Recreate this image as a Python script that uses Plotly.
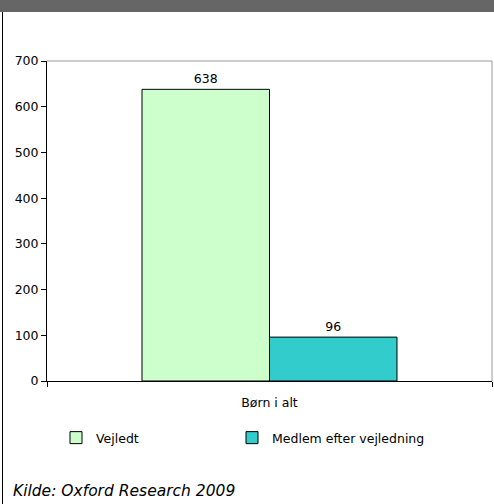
import plotly.graph_objects as go

categories = ["Børn i alt"]
series_names = ["Vejledt", "Medlem efter vejledning"]
vejledt = [638]
medlem = [96]
colors = ["#CCFFCC", "#33CCCC"]
y_ticks = [0, 100, 200, 300, 400, 500, 600, 700]
source = "Kilde: Oxford Research 2009"

W, H = 494, 504
ml, mr, mt, mb = 47, 2, 61, 123
PW, PH = W - ml - mr, H - mt - mb

font = "DejaVu Sans"
fs = 12.5
fig = go.Figure()
for i, (name, vals, col) in enumerate(zip(series_names, [vejledt, medlem], colors)):
    fig.add_trace(go.Bar(
        x=categories, y=vals, name=name,
        marker=dict(color=col, line=dict(color="#000000", width=1)),
        text=[str(v) for v in vals], textposition="outside",
        textfont=dict(family=font, size=fs, color="#000"),
        cliponaxis=False,
        legend="legend" if i == 0 else "legend2",
    ))

leg_y = -(423 - (mt + PH)) / PH
fig.update_layout(
    width=W, height=H,
    margin=dict(l=ml, r=mr, t=mt, b=mb),
    paper_bgcolor="white", plot_bgcolor="white",
    barmode="group", bargap=0.427, bargroupgap=0,
    font=dict(family=font, size=fs, color="#000"),
    showlegend=True,
    legend=dict(orientation="h", x=(56 - ml) / PW, xanchor="left",
                y=leg_y, yanchor="top",
                font=dict(family=font, size=fs, color="#000"), itemwidth=30),
    legend2=dict(orientation="h", x=(232 - ml) / PW, xanchor="left",
                 y=leg_y, yanchor="top",
                 font=dict(family=font, size=fs, color="#000"), itemwidth=30),
    xaxis=dict(type="category", showline=True, linecolor="#000", linewidth=1,
               ticks="outside", tickson="boundaries", ticklen=5, tickcolor="#000",
               ticklabelstandoff=10,
               showgrid=False, tickfont=dict(family=font, size=fs), range=[-0.5, 0.5]),
    yaxis=dict(range=[0, 700], tickvals=y_ticks, showline=True, linecolor="#000",
               linewidth=1, ticks="outside", ticklen=5, tickcolor="#000",
               showgrid=False, zeroline=False, tickfont=dict(family=font, size=fs)),
    shapes=[
        dict(type="rect", xref="paper", yref="paper", x0=-ml / PW, x1=1 + mr / PW,
             y0=1 + (mt - 12) / PH, y1=1 + mt / PH,
             fillcolor="#666666", line=dict(width=0), layer="above"),
        dict(type="line", xref="paper", yref="paper", x0=0, x1=1, y0=1, y1=1,
             line=dict(color="#999999", width=1)),
        dict(type="line", xref="paper", yref="paper", x0=1, x1=1, y0=0, y1=1,
             line=dict(color="#999999", width=1)),
        dict(type="line", xref="paper", yref="paper",
             x0=-(ml - 2.5) / PW, x1=-(ml - 2.5) / PW,
             y0=-mb / PH, y1=1 + (mt - 12) / PH,
             line=dict(color="#000000", width=1)),
    ],
    annotations=[dict(text="<i>" + source + "</i>", xref="paper", yref="paper",
                      x=-(ml - 11) / PW, y=1 - (491 - mt) / PH,
                      xanchor="left", yanchor="middle", showarrow=False,
                      font=dict(family=font, size=15.5, color="#000"))],
)
fig.write_html("out.html", config={"displayModeBar": False},
               post_script="document.body.style.margin='0';")
